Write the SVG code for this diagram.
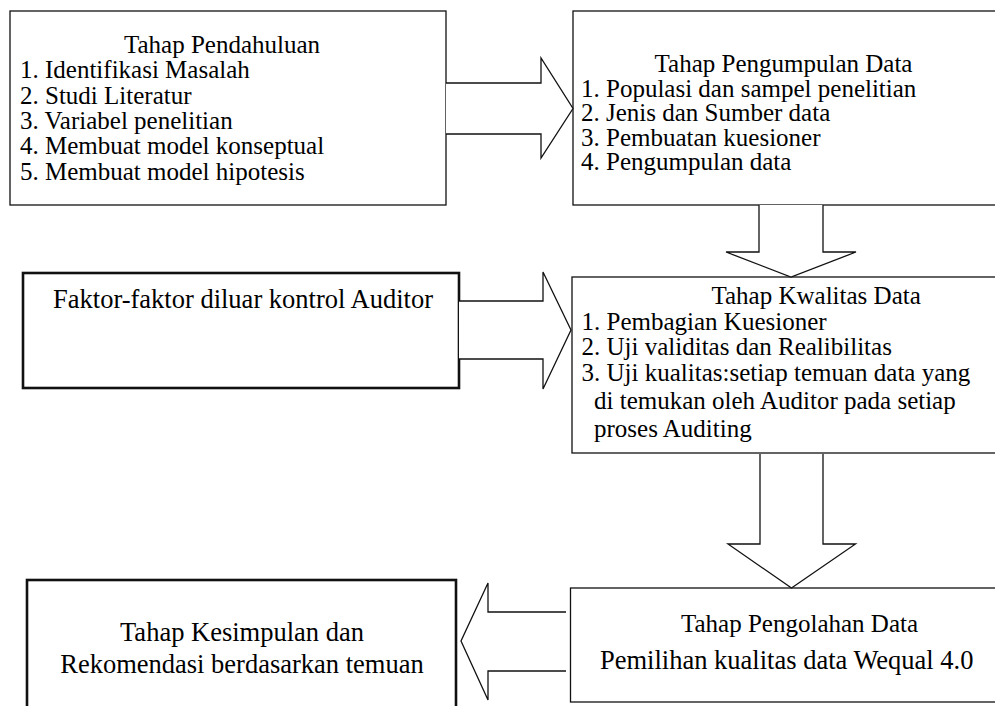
<svg xmlns="http://www.w3.org/2000/svg" width="995" height="706" viewBox="0 0 995 706">
<style>
.box{fill:#fff;stroke:#111;stroke-width:1.3}
.thick{fill:#fff;stroke:#111;stroke-width:2.6}
.arr{fill:#fff;stroke:#111;stroke-width:1.3;stroke-linejoin:miter}
text{font-family:"Liberation Serif","Times New Roman",serif;fill:#000;font-size:25px}
.big{font-size:26.5px}
.c{text-anchor:middle}
</style>
<rect width="995" height="706" fill="#fff"/>
<g id="n1">
<rect class="box" x="10" y="11" width="436" height="194"/>
<text class="c" x="222" y="53">Tahap Pendahuluan</text>
<text x="20" y="78.3">1. Identifikasi Masalah</text>
<text x="20" y="103.6">2. Studi Literatur</text>
<text x="20" y="128.9">3. Variabel penelitian</text>
<text x="20" y="154.2">4. Membuat model konseptual</text>
<text x="20" y="179.5">5. Membuat model hipotesis</text>
</g>
<g id="n2">
<rect class="box" x="573" y="11" width="424" height="194"/>
<text class="c" x="783.5" y="72">Tahap Pengumpulan Data</text>
<text x="581" y="96.6">1. Populasi dan sampel penelitian</text>
<text x="581" y="121.2">2. Jenis dan Sumber data</text>
<text x="581" y="145.8">3. Pembuatan kuesioner</text>
<text x="581" y="170.4">4. Pengumpulan data</text>
</g>
<g id="n3">
<rect class="thick" x="23" y="273" width="436" height="115"/>
<text class="c big" x="243" y="308">Faktor-faktor diluar kontrol Auditor</text>
</g>
<g id="n4">
<rect class="box" x="572" y="277" width="425" height="176"/>
<text x="711.5" y="304">Tahap Kwalitas Data</text>
<text x="581.5" y="329.5">1. Pembagian Kuesioner</text>
<text x="581.5" y="355">2. Uji validitas dan Realibilitas</text>
<text x="581.5" y="380.5">3. Uji kualitas:setiap temuan data yang</text>
<text x="594" y="408.5">di temukan oleh Auditor pada setiap</text>
<text x="594" y="436.5">proses Auditing</text>
</g>
<g id="n5">
<rect class="box" x="570.5" y="588" width="426" height="114"/>
<text x="681" y="632">Tahap Pengolahan Data</text>
<text class="big" x="600" y="668.5">Pemilihan kualitas data Wequal 4.0</text>
</g>
<g id="n6">
<rect class="thick" x="27" y="580" width="429" height="140"/>
<text class="c big" x="242" y="641">Tahap Kesimpulan dan</text>
<text class="c big" x="242" y="673">Rekomendasi berdasarkan temuan</text>
</g>
<g id="connectors">
<path class="arr" d="M446,83 H541 V58 L573,108.5 L541,158 V134 H446"/>
<path class="arr" d="M759,205 V252 H726 L791,277 L856,252 H823 V205"/>
<path class="arr" d="M459,301 H543 V272 L571,330 L543,389 V359 H459"/>
<path class="arr" d="M760,454 V544 H728 L791.5,588 L855.5,544 H823 V454"/>
<path class="arr" d="M566,612 H488 V583 L461,641 L488,700 V671 H566"/>
</g>
</svg>
